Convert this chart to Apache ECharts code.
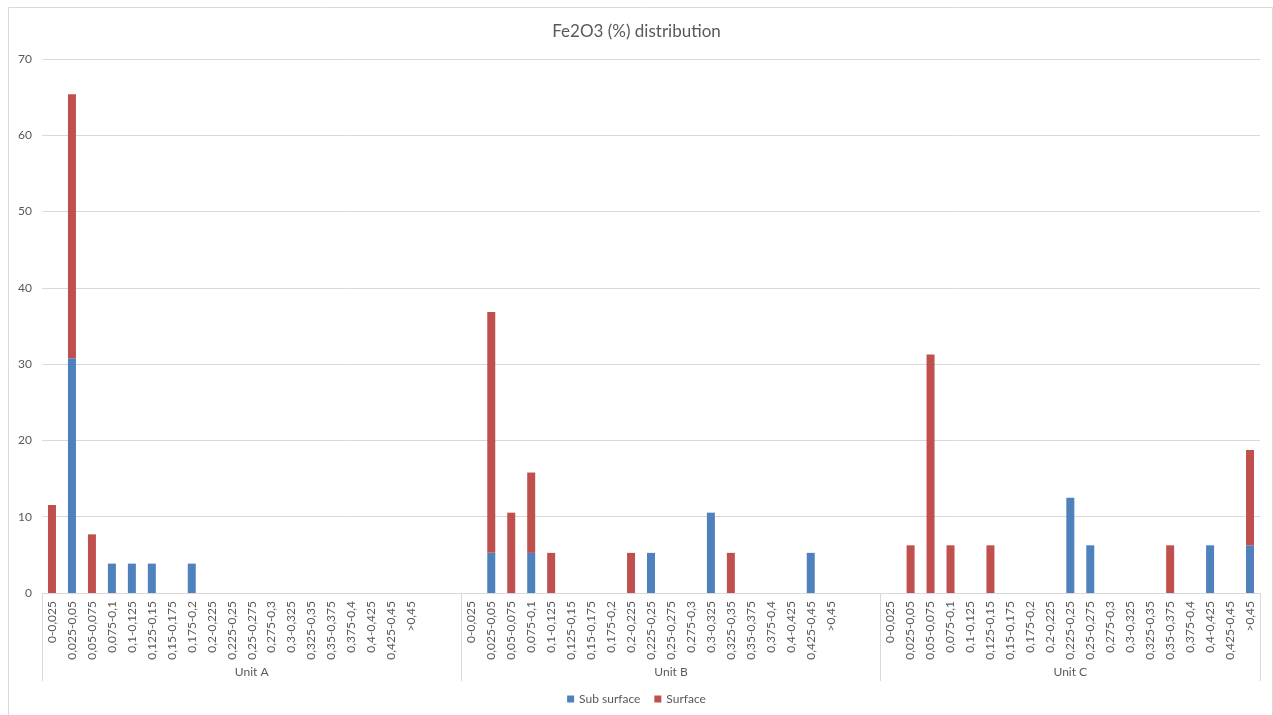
<!DOCTYPE html>
<html>
<head>
<meta charset="utf-8">
<script src="https://cdn.jsdelivr.net/npm/echarts@6/dist/echarts.min.js"></script>
<style>
  html, body { margin: 0; padding: 0; background: #fff; }
  #chart { width: 1273px; height: 715px; }
</style>
</head>
<body>
<div id="chart"></div>
<script>
// Fe2O3 class bins (same for every unit)
const bins = ['0-0,025', '0,025-0,05', '0,05-0,075', '0,075-0,1', '0,1-0,125', '0,125-0,15',
  '0,15-0,175', '0,175-0,2', '0,2-0,225', '0,225-0,25', '0,25-0,275', '0,275-0,3',
  '0,3-0,325', '0,325-0,35', '0,35-0,375', '0,375-0,4', '0,4-0,425', '0,425-0,45', '>0,45'];
const units = ['Unit A', 'Unit B', 'Unit C'];
// empty rows that follow each unit's bins in the source table
const blankRows = [2, 2, 0];

// percentages per bin
const subSurfaceA = [null, 30.77, null, 3.85, 3.85, 3.85, null, 3.85, null, null, null, null, null, null, null, null, null, null, null];
const surfaceA    = [11.54, 34.62, 7.69, null, null, null, null, null, null, null, null, null, null, null, null, null, null, null, null];
const subSurfaceB = [null, 5.26, null, 5.26, null, null, null, null, null, 5.26, null, null, 10.53, null, null, null, null, 5.26, null];
const surfaceB    = [null, 31.58, 10.53, 10.53, 5.26, null, null, null, 5.26, null, null, null, null, 5.26, null, null, null, null, null];
const subSurfaceC = [null, null, null, null, null, null, null, null, null, 12.5, 6.25, null, null, null, null, null, 6.25, null, 6.25];
const surfaceC    = [null, 6.25, 31.25, 6.25, null, 6.25, null, null, null, null, null, null, null, null, 6.25, null, null, null, 12.5];

const yTicks = { min: 0, max: 70, step: 10 };

const subSurface = [subSurfaceA, subSurfaceB, subSurfaceC];
const surface = [surfaceA, surfaceB, surfaceC];

// flatten into one category axis, with a second axis carrying the unit names
const categories = [];
const groupLabels = [];
const subData = [];
const surfData = [];
const groupStarts = new Set();
units.forEach((u, ui) => {
  const start = categories.length;
  groupStarts.add(start);
  const count = bins.length + blankRows[ui];
  for (let i = 0; i < count; i++) {
    const inBins = i < bins.length;
    categories.push(inBins ? bins[i] : '');
    subData.push(inBins ? subSurface[ui][i] : null);
    surfData.push(inBins ? surface[ui][i] : null);
    groupLabels.push(i === Math.floor(count / 2) ? u : '');
  }
});

const textColor = '#595959';
const lineColor = '#d9d9d9';
const font = 'Lato, "Open Sans", sans-serif';

const chart = echarts.init(document.getElementById('chart'));
chart.setOption({
  animation: false,
  backgroundColor: '#fff',
  textStyle: { fontFamily: font },
  graphic: [{
    type: 'rect',
    shape: { x: 8.5, y: 7.5, width: 1264, height: 712 },
    style: { fill: 'none', stroke: lineColor, lineWidth: 1 },
    silent: true
  }],
  title: {
    text: 'Fe2O3 (%) distribution',
    left: 'center',
    top: 18,
    textStyle: { color: textColor, fontSize: 17, fontWeight: 'normal', fontFamily: font }
  },
  legend: {
    bottom: 5,
    left: 'center',
    itemWidth: 7,
    itemHeight: 7,
    itemGap: 14,
    icon: 'rect',
    textStyle: { color: textColor, fontSize: 12, fontFamily: font },
    data: ['Sub surface', 'Surface']
  },
  grid: { left: 42, right: 13, top: 59, bottom: 122 },
  xAxis: [{
    type: 'category',
    data: categories,
    position: 'bottom',
    axisLine: { lineStyle: { color: lineColor } },
    axisTick: { show: false },
    axisLabel: {
      interval: 0,
      rotate: 90,
      margin: 8,
      color: textColor,
      fontSize: 12,
      fontFamily: font
    }
  }, {
    type: 'category',
    data: groupLabels,
    position: 'bottom',
    axisLine: { show: false },
    axisTick: {
      show: true,
      length: 88,
      interval: (idx) => groupStarts.has(idx),
      lineStyle: { color: lineColor }
    },
    axisLabel: {
      interval: 0,
      margin: 73,
      color: textColor,
      fontSize: 12,
      fontFamily: font
    }
  }],
  yAxis: {
    type: 'value',
    min: yTicks.min,
    max: yTicks.max,
    interval: yTicks.step,
    axisLine: { show: false },
    axisTick: { show: false },
    axisLabel: { color: textColor, fontSize: 12, margin: 10, fontFamily: font },
    splitLine: { lineStyle: { color: lineColor } }
  },
  series: [{
    name: 'Sub surface',
    type: 'bar',
    stack: 'total',
    xAxisIndex: 0,
    barWidth: 8,
    itemStyle: { color: '#4F81BD' },
    data: subData
  }, {
    name: 'Surface',
    type: 'bar',
    stack: 'total',
    xAxisIndex: 0,
    barWidth: 8,
    itemStyle: { color: '#C0504D' },
    data: surfData
  }]
});
</script>
</body>
</html>
